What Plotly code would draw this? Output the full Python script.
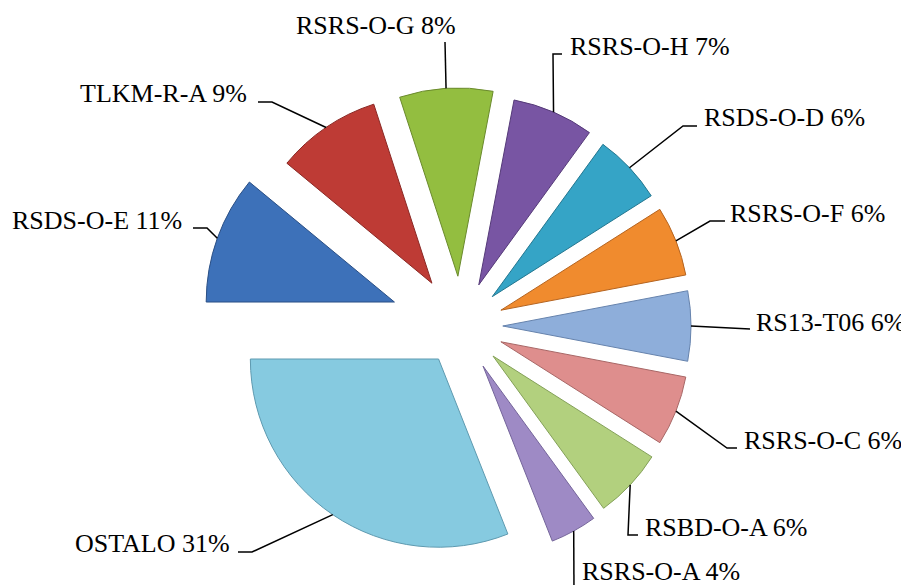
import math
import plotly.graph_objects as go

# ---------------- data ----------------
labels = ["RSDS-O-E", "TLKM-R-A", "RSRS-O-G", "RSRS-O-H", "RSDS-O-D", "RSRS-O-F",
          "RS13-T06", "RSRS-O-C", "RSBD-O-A", "RSRS-O-A", "OSTALO"]
values = [11, 9, 8, 7, 6, 6, 6, 6, 6, 4, 31]

# ---------------- style ----------------
colors = ["#3D71B9", "#BE3B35", "#93BE40", "#7855A3", "#35A4C6", "#F08B2E",
          "#8EAEDA", "#DE8E8D", "#B2D07E", "#9E8AC5", "#86CAE0"]
edge_colors = ["#2A4F85", "#8A2824", "#6A8A2C", "#553A78", "#23768F", "#B56420",
               "#6683AD", "#A86766", "#83A058", "#74649A", "#5E9AB0"]
pulls = [0.376, 0.275, 0.265, 0.238, 0.228, 0.228, 0.222, 0.228, 0.233, 0.243, 0.212]

PAGE_OFF = 8               # default body margin of the html page
W, H = 909 - PAGE_OFF, 585 - PAGE_OFF
CX, CY = 461, 326          # pie centre (screen px)
BOX = 518                  # pie domain size (px)
FONT = "Liberation Serif, Times New Roman, serif"
FS = 26

# label layout in screen px: (x, y, xanchor, leader points from label towards slice)
label_layout = [
    (184, 220, "right", [(193, 228), (207, 228)]),
    (249, 94, "right", [(258, 102), (272, 102)]),
    (376, 26, "center", [(445, 42)]),
    (568, 47, "left", [(562, 54), (553, 54)]),
    (702, 118, "left", [(697, 126), (683, 126)]),
    (728, 213, "left", [(725, 221), (710, 221)]),
    (754, 322, "left", [(750, 329)]),
    (742, 440, "left", [(737, 448), (727, 448)]),
    (643, 527, "left", [(638, 535), (628, 535)]),
    (580, 571, "left", [(574, 592)]),
    (232, 543, "right", [(238, 552), (252, 552)]),
]

ROTATION = 270


def px2paper(x, y):
    return (x - PAGE_OFF) / W, 1 - (y - PAGE_OFF) / H


dom_x = [(CX - PAGE_OFF - BOX / 2) / W, (CX - PAGE_OFF + BOX / 2) / W]
dom_y = [max(0.0, 1 - (CY - PAGE_OFF + BOX / 2) / H), min(1.0, 1 - (CY - PAGE_OFF - BOX / 2) / H)]

fig = go.Figure(go.Pie(
    labels=labels,
    values=values,
    sort=False,
    direction="clockwise",
    rotation=ROTATION,
    pull=pulls,
    marker=dict(colors=colors, line=dict(color=edge_colors, width=1)),
    textinfo="none",
    hoverinfo="label+percent",
    domain=dict(x=dom_x, y=dom_y),
))

# radius as plotly computes it
R = BOX / (2 + 2 * max(pulls))
total = sum(values)

annotations = []
shapes = []
cum = 0
for i, (name, v) in enumerate(zip(labels, values)):
    mid = math.radians(ROTATION + 360 * (cum + v / 2) / total)
    cum += v
    ux, uy = math.sin(mid), -math.cos(mid)
    ax = CX + (1 + pulls[i]) * R * ux
    ay = CY + (1 + pulls[i]) * R * uy
    lx, ly, xa, pts = label_layout[i]
    pct = round(100 * v / total)
    tx, ty = px2paper(lx, ly)
    annotations.append(dict(
        x=tx, y=ty, xref="paper", yref="paper", xanchor=xa, yanchor="middle",
        text=f"{name} {pct}%", showarrow=False,
        font=dict(family=FONT, size=FS, color="#000000"),
    ))
    allpts = list(pts) + [(ax, ay)]
    path = ""
    for j, (px_, py_) in enumerate(allpts):
        qx, qy = px2paper(px_, py_)
        path += ("M" if j == 0 else " L") + f" {qx:.5f} {qy:.5f}"
    shapes.append(dict(type="path", xref="paper", yref="paper", path=path,
                       line=dict(color="#000000", width=1.5)))

fig.update_layout(
    width=W, height=H,
    margin=dict(l=0, r=0, t=0, b=0),
    paper_bgcolor="white",
    plot_bgcolor="white",
    showlegend=False,
    annotations=annotations,
    shapes=shapes,
)

fig.write_html("out.html")
